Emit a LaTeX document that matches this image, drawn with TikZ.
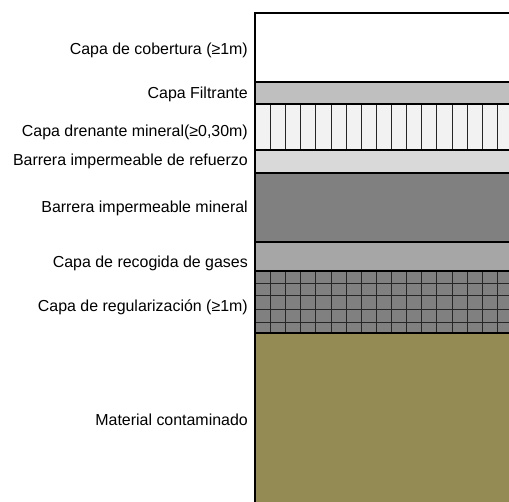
\documentclass[tikz,border=0pt]{standalone}
\usepackage{fontspec}
\setmainfont{Liberation Sans}
\usepackage{tikz}
\usetikzlibrary{positioning}
\definecolor{filtrante}{HTML}{BFBFBF}
\definecolor{drenante}{HTML}{F2F2F2}
\definecolor{refuerzo}{HTML}{D9D9D9}
\definecolor{mineral}{HTML}{808080}
\definecolor{gases}{HTML}{A6A6A6}
\definecolor{contaminado}{HTML}{948A54}
\tikzset{
	x=1bp, y=-1bp, % one unit per pixel, y runs downwards
	layer text/.style={anchor=base east, inner sep=0pt, font=\fontsize{16}{19}\selectfont}, % the names left of the column
	border/.style={line width=2bp, line cap=rect}, % outline of the column
	separator/.style={line width=1.6bp}, % line between two layers
	hatch/.style={line width=1.2bp, black!85}, % vertical and grid lines
}

\begin{document}
\begin{tikzpicture}
		\useasboundingbox (0,0) rectangle (509,502);
		
		% layers
		\fill[white] (254.5,13) rectangle (509,82);
		\fill[filtrante] (254.5,82) rectangle (509,104);
		\fill[drenante] (254.5,104) rectangle (509,150);
		\fill[refuerzo] (254.5,150) rectangle (509,173);
		\fill[mineral] (254.5,173) rectangle (509,242);
		\fill[gases] (254.5,242) rectangle (509,271);
		\fill[mineral] (254.5,271) rectangle (509,333);
		\fill[contaminado] (254.5,333) rectangle (509,502);
		
		% vertical lines of the drainage layer and the grid
		\foreach \i in {0,...,15} {
			\pgfmathsetmacro{\xx}{round(270+15.133*\i)+0.5}
			\draw[hatch] (\xx,104) -- (\xx,150);
			\draw[hatch] (\xx,271) -- (\xx,333);
		}
		\foreach \y in {283.5,295.5,309.5,322.5} {
			\draw[hatch] (254.5,\y) -- (509,\y);
		}
		
		% separators
		\foreach \y in {82,104,150,173,242,271,333} {
			\draw[separator] (254.5,\y) -- (509,\y);
		}
		\draw[border] (509,13) -- (254.5,13) -- (254.5,502);
		
		% names
		\node[layer text] (cobertura) at (248,55) {Capa de cobertura (≥1m)};
		\node[layer text] (filtrante) at (248,98.5) {Capa Filtrante};
		\node[layer text] (drenante) at (248,137) {Capa drenante mineral(≥0,30m)};
		\node[layer text] (refuerzo) at (248,166) {Barrera impermeable de refuerzo};
		\node[layer text] (mineral) at (248,212) {Barrera impermeable mineral};
		\node[layer text] (gases) at (248,267) {Capa de recogida de gases};
		\node[layer text] (regularizacion) at (248,311.5) {Capa de regularización (≥1m)};
		\node[layer text] (contaminado) at (248,425) {Material contaminado};
\end{tikzpicture}
\end{document}
